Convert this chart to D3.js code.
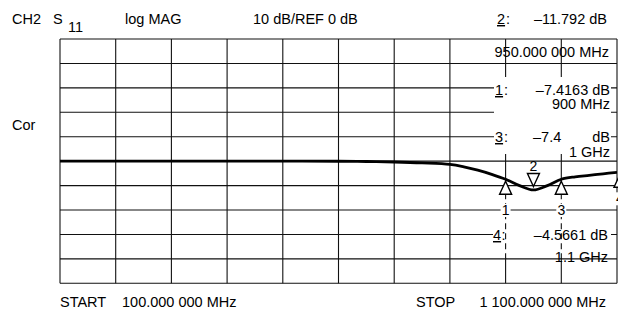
<!DOCTYPE html>
<html>
<head>
<meta charset="utf-8">
<script src="https://cdn.jsdelivr.net/npm/d3@7"></script>
<style>
  body { margin: 0; background: #fff; }
  text { font-family: "Liberation Sans", Arial, sans-serif; font-size: 14.5px; fill: #000; }
</style>
</head>
<body>
<script>
// trace data
var freqMHz = [100, 200, 300, 400, 500, 600, 650, 700, 750, 800, 825, 850, 875, 900, 925, 950, 975, 1000, 1025, 1050, 1075, 1100];
var gainDb  = [0, 0, 0, 0, 0, -0.05, -0.15, -0.35, -0.7, -1.3, -2.3, -3.7, -5.4, -7.4163, -10.0, -11.792, -10.0, -7.4, -6.4, -5.8, -5.2, -4.5661];

// markers
var markerIds   = ["1", "2", "3", "4"];
var markerFreqs = [900, 950, 1000, 1100];
var markerDbs   = [-7.4163, -11.792, -7.4, -4.5661];

// grid ticks
var freqTicks = d3.range(100, 1101, 100);
var dbTicks = d3.range(-50, 51, 10);

var w = 618, h = 310;
var gLeft = 60, gRight = 617, gTop = 39, gBottom = 283.3;

var svg = d3.select("body").append("svg")
    .attr("width", w)
    .attr("height", h);

var x = d3.scaleLinear().domain([100, 1100]).range([gLeft, gRight]);
var y = d3.scaleLinear().domain([50, -50]).range([gTop, gBottom]);

//Grid
var grid = svg.append("g").attr("stroke", "#111").attr("stroke-width", 1.1);
grid.selectAll("line.v").data(freqTicks).enter().append("line")
    .attr("x1", d => x(d)).attr("x2", d => x(d))
    .attr("y1", gTop).attr("y2", gBottom);
grid.selectAll("line.h").data(dbTicks).enter().append("line")
    .attr("x1", gLeft).attr("x2", gRight)
    .attr("y1", d => y(d)).attr("y2", d => y(d));

//white boxes behind the marker readouts
svg.append("rect").attr("x", 494).attr("y", 77).attr("width", 117).attr("height", 77).attr("fill", "#fff");
svg.append("rect").attr("x", 493).attr("y", 224).attr("width", 118).attr("height", 33).attr("fill", "#fff");

var markers = markerIds.map((id, i) => ({ id: id, f: markerFreqs[i], db: markerDbs[i] }));
var upMarkers = markers.filter(d => d.id != "2");

//dashed drop lines under markers 1 and 3
var drops = upMarkers.filter(d => d.f < 1100);
svg.selectAll("line.blank").data(drops).enter().append("line")
    .attr("x1", d => x(d.f)).attr("x2", d => x(d.f))
    .attr("y1", d => y(d.db) + 14).attr("y2", y(-40) - 1)
    .attr("stroke", "#fff").attr("stroke-width", 3);
svg.selectAll("line.dash").data(drops).enter().append("line")
    .attr("x1", d => x(d.f)).attr("x2", d => x(d.f))
    .attr("y1", d => y(d.db) + 14).attr("y2", y(-40))
    .attr("stroke", "#111").attr("stroke-width", 1.1)
    .attr("stroke-dasharray", "6,4");

//Trace
svg.append("clipPath").attr("id", "clip").append("rect")
    .attr("x", gLeft).attr("y", gTop).attr("width", gRight - gLeft).attr("height", gBottom - gTop);
var line = d3.line().x(d => x(d[0])).y(d => y(d[1])).curve(d3.curveCatmullRom.alpha(0.5));
svg.append("path")
    .datum(freqMHz.map((f, i) => [f, gainDb[i]]))
    .attr("clip-path", "url(#clip)")
    .attr("fill", "none").attr("stroke", "#000").attr("stroke-width", 2.8)
    .attr("stroke-linejoin", "round")
    .attr("d", line);

//marker triangles
svg.selectAll("path.up").data(upMarkers).enter().append("path")
    .attr("d", d => { var cx = x(d.f) + (d.id == "4" ? 3 : 0), cy = y(d.db) + 2;
        return "M" + cx + "," + cy + "L" + (cx + 6) + "," + (cy + 13) + "L" + (cx - 6) + "," + (cy + 13) + "Z"; })
    .attr("fill", "#fff").attr("stroke", "#000").attr("stroke-width", 1.4);
var m2 = markers[1];
svg.append("path")
    .attr("d", () => { var cx = x(m2.f), cy = y(m2.db) - 3.5;
        return "M" + cx + "," + cy + "L" + (cx + 6) + "," + (cy - 13) + "L" + (cx - 6) + "," + (cy - 13) + "Z"; })
    .attr("fill", "#fff").attr("stroke", "#000").attr("stroke-width", 1.4);
svg.append("text").attr("x", x(m2.f)).attr("y", y(m2.db) - 19)
    .attr("text-anchor", "middle").style("font-size", "14px").text(m2.id);

//marker numbers below
upMarkers.forEach(d => {
    var cx = x(d.f) + (d.id == "4" ? 3 : 0);
    var by = d.id == "4" ? y(d.db) + 31 : 215;
    svg.append("rect").attr("x", cx - 5).attr("y", by - 11).attr("width", 10).attr("height", 13).attr("fill", "#fff");
    svg.append("text").attr("x", cx).attr("y", by).attr("text-anchor", "middle").style("font-size", "14px").text(d.id);
});

//Header
function label(tx, ty, str, anchor) {
    return svg.append("text").attr("x", tx).attr("y", ty).attr("text-anchor", anchor || "start").text(str);
}
label(12, 24, "CH2");
label(53, 24, "S");
label(68, 31.5, "11");
label(125, 24, "log MAG");
label(253, 24, "10 dB/REF 0 dB");
label(497, 24, "2").style("text-decoration", "underline");
label(506, 24, ":");
label(607, 24, "\u201311.792 dB", "end");
label(609, 57, "950.000 000 MHz", "end");
label(12, 130, "Cor");

//marker readouts
label(495, 95, "1").style("text-decoration", "underline");
label(504, 95, ":");
label(610, 95, "\u20137.4163 dB", "end");
label(610, 109, "900 MHz", "end");
label(495, 142, "3").style("text-decoration", "underline");
label(504, 142, ":");
label(533, 142, "\u20137.4");
label(610, 142, "dB", "end");
label(610, 157, "1 GHz", "end");
label(493, 240, "4").style("text-decoration", "underline");
label(501.5, 240, ":");
label(608, 240, "\u20134.5661 dB", "end");
label(608, 262, "1.1 GHz", "end");

//footer
label(60, 306.5, "START");
label(122, 306.5, "100.000 000 MHz");
label(416, 306.5, "STOP");
label(606, 306.5, "1 100.000 000 MHz", "end");
</script>
</body>
</html>
